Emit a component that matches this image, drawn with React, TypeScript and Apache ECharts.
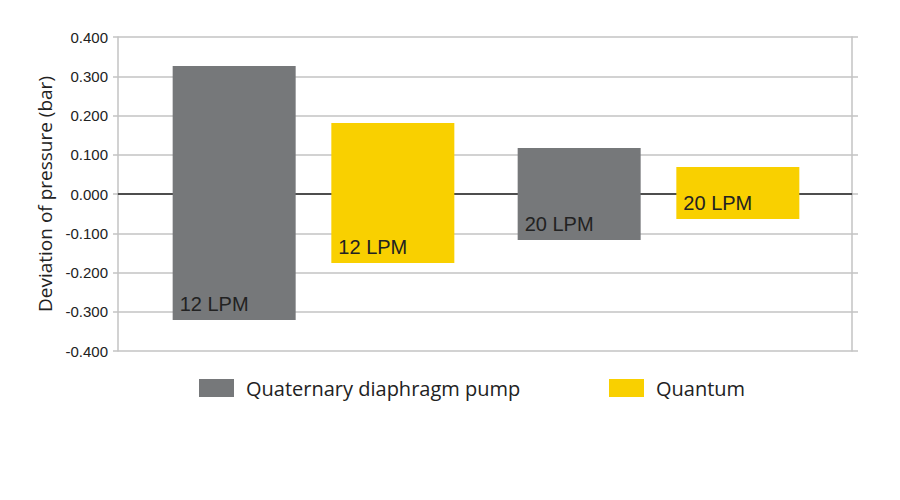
import React, { useEffect, useRef } from "react";
import * as echarts from "echarts";

const categories = ["12 LPM", "20 LPM"];
const seriesNames = ["Quaternary diaphragm pump", "Quantum"];
const pumpHigh = [0.326, 0.117];
const pumpLow = [-0.321, -0.117];
const quantumHigh = [0.181, 0.069];
const quantumLow = [-0.176, -0.064];
const yMin = -0.4;
const yMax = 0.4;
const yStep = 0.1;

const GRAY = "#76787a";
const YELLOW = "#f9d000";
const GRID_LINE = "#c3c3c3";

export default function App() {
  const ref = useRef<HTMLDivElement>(null);
  useEffect(() => {
    if (!ref.current) return;
    const chart = echarts.init(ref.current, undefined, { renderer: "svg" });
    const barCommon = {
      type: "bar",
      xAxisIndex: 1,
      yAxisIndex: 2,
      barWidth: 123,
      barGap: "29%",
    };
    const label = {
      show: true,
      position: "insideBottomLeft",
      offset: [2, -1],
      formatter: (p: any) => categories[p.dataIndex],
      color: "#222",
      fontSize: 20,
      fontFamily: "Liberation Sans",
    };
    const legendCommon = {
      top: 378,
      padding: 0,
      itemWidth: 35,
      itemHeight: 18,
      icon: "rect",
      textStyle: { fontSize: 20, fontFamily: "Open Sans", color: "#222", padding: [0, 0, 0, 7] },
    };
    chart.setOption({
      animation: false,
      grid: [
        { left: 118, right: 48, top: 37, bottom: 149 },
        { left: 141, right: 69, top: 37, bottom: 149 },
      ],
      legend: [
        { ...legendCommon, data: [seriesNames[0]], left: 199 },
        { ...legendCommon, data: [seriesNames[1]], left: 609 },
      ],
      xAxis: [
        {
          type: "category",
          gridIndex: 0,
          data: categories,
          axisLine: { onZero: true, lineStyle: { color: "#222", width: 1.5 } },
          axisTick: { show: false },
          axisLabel: { show: false },
          splitLine: { show: false },
        },
        {
          type: "category",
          gridIndex: 1,
          data: categories,
          show: false,
        },
      ],
      yAxis: [
        {
          type: "value",
          gridIndex: 0,
          min: yMin,
          max: yMax,
          interval: yStep,
          name: "Deviation of pressure (bar)",
          nameLocation: "middle",
          nameGap: 63,
          nameTextStyle: { fontSize: 19, fontFamily: "Open Sans", color: "#222" },
          axisLine: { show: true, lineStyle: { color: GRID_LINE, width: 1.5 } },
          axisTick: { show: true, length: 5, lineStyle: { color: GRID_LINE, width: 1.5 } },
          axisLabel: {
            formatter: (v: number) => v.toFixed(3),
            fontSize: 15,
            fontFamily: "Liberation Sans",
            color: "#222",
            margin: 10,
          },
          splitLine: { show: true, lineStyle: { color: GRID_LINE, width: 1.5 } },
        },
        {
          type: "value",
          gridIndex: 0,
          position: "right",
          min: yMin,
          max: yMax,
          interval: yStep,
          axisLine: { show: true, lineStyle: { color: GRID_LINE, width: 1.5 } },
          axisTick: { show: true, length: 6, lineStyle: { color: GRID_LINE, width: 1.5 } },
          axisLabel: { show: false },
          splitLine: { show: false },
        },
        {
          type: "value",
          gridIndex: 1,
          min: yMin,
          max: yMax,
          interval: yStep,
          show: false,
        },
      ],
      series: [
        { ...barCommon, name: seriesNames[0], stack: "pump", data: pumpHigh, itemStyle: { color: GRAY } },
        { ...barCommon, name: seriesNames[0], stack: "pump", data: pumpLow, itemStyle: { color: GRAY }, label },
        { ...barCommon, name: seriesNames[1], stack: "quantum", data: quantumHigh, itemStyle: { color: YELLOW } },
        { ...barCommon, name: seriesNames[1], stack: "quantum", data: quantumLow, itemStyle: { color: YELLOW }, label },
      ],
    });
    return () => chart.dispose();
  }, []);
  return <div ref={ref} style={{ width: 900, height: 500, margin: -8 }} />;
}
